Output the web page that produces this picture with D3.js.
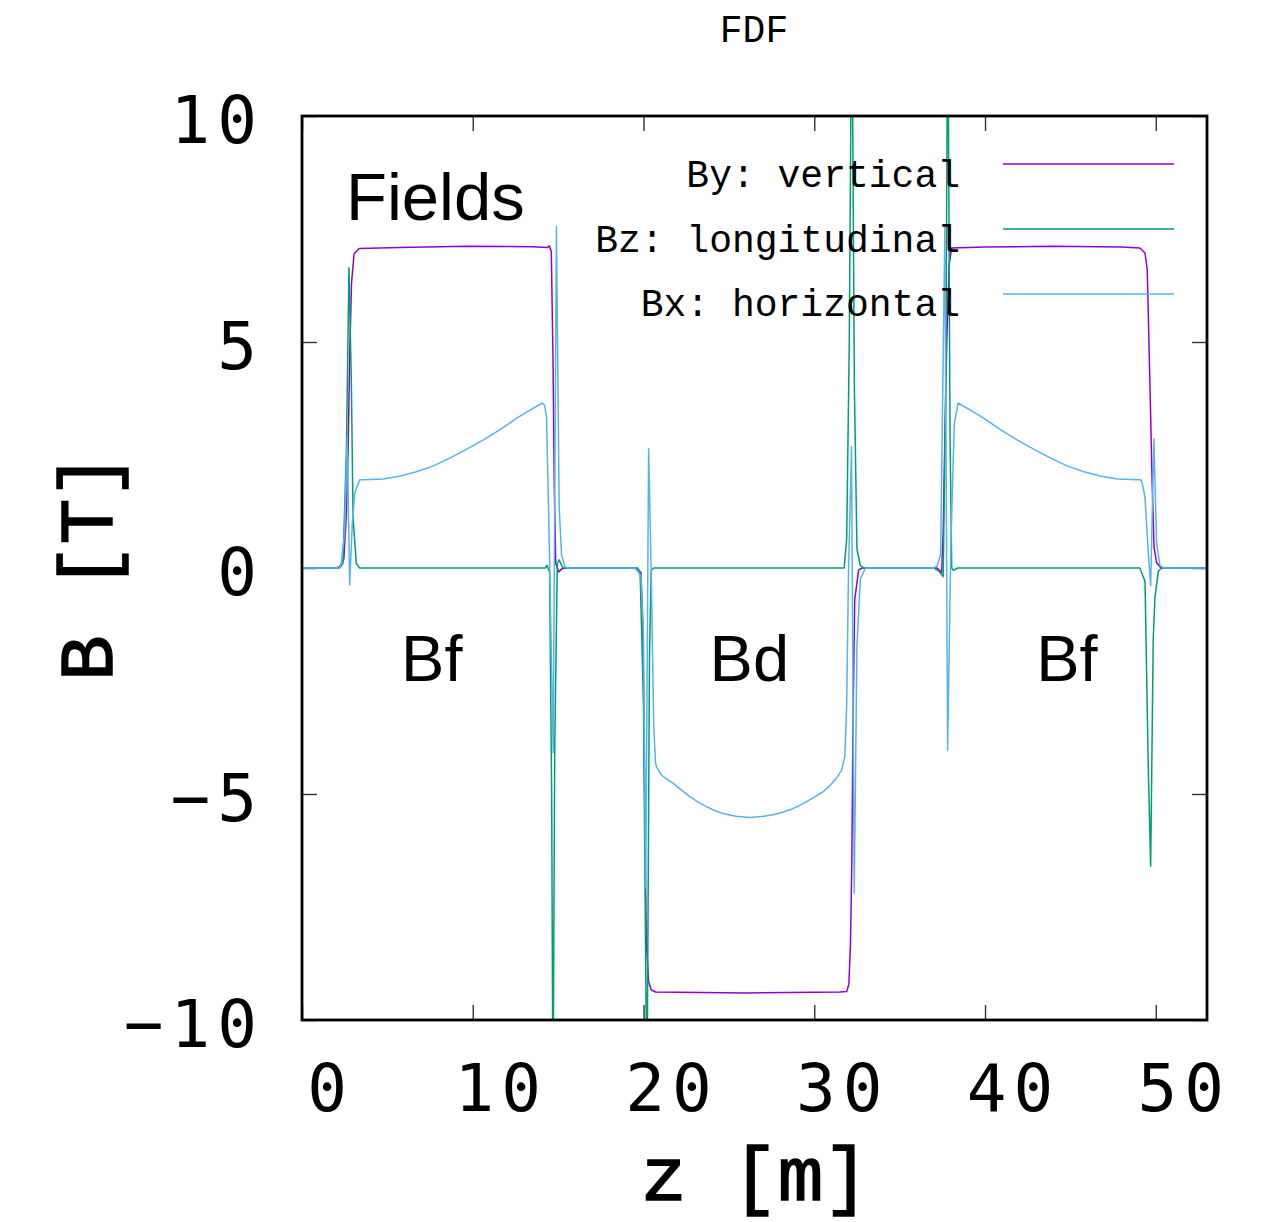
<!DOCTYPE html>
<html>
<head>
<meta charset="utf-8">
<script src="https://cdn.jsdelivr.net/npm/d3@7"></script>
<style>
  body { margin: 0; background: #fff; }
</style>
</head>
<body>
<div id="chart"></div>
<script>
// field map data
var byZ   = [0, 2.0, 2.2, 2.45, 2.6, 2.7, 2.8, 2.9, 3.05, 3.35, 5.7, 9.6, 13.5, 14.38, 14.48, 14.6, 14.7, 14.78, 14.86, 15.05, 15.2, 15.4,
             19.6, 19.85, 19.96, 20.06, 20.16, 20.3, 20.45, 20.7, 26.0, 31.5, 31.9, 32.03, 32.12, 32.2, 32.27, 32.37, 32.6, 32.8,
             37.2, 37.46, 37.55, 37.62, 37.76, 37.9, 38.04, 40.0, 44.0, 48.0, 49.07, 49.37, 49.5, 49.65, 49.78, 49.9, 50.05, 50.3, 53];
var byVal = [0, 0, 0.03, 0.2, 1.2, 2.6, 4.8, 6.3, 6.95, 7.07, 7.09, 7.12, 7.11, 7.09, 7.13, 7.0, 4.6, 1.7, 0.1, -0.09, -0.02, 0,
             0, -0.1, -1.23, -4.73, -8.25, -9.15, -9.33, -9.38, -9.4, -9.38, -9.37, -9.2, -8.3, -6.5, -3.4, -0.7, -0.04, 0,
             0, -0.1, 0.8, 2.3, 5.0, 6.7, 7.08, 7.1, 7.12, 7.1, 7.08, 6.97, 6.6, 4.2, 2.0, 0.45, 0.12, 0, 0];

var bzZ   = [0, 2.2, 2.4, 2.6, 2.75, 2.89, 2.99, 3.18, 3.38, 14.25, 14.35, 14.5, 14.62, 14.7, 14.8, 14.95, 15.06, 15.25, 15.4,
             19.65, 19.8, 20.0, 20.2, 20.35, 20.45, 20.6, 31.75, 31.9, 32.05, 32.2, 32.35, 32.5, 32.7, 32.9,
             37.0, 37.3, 37.55, 37.7, 37.82, 37.95, 38.05, 38.15, 38.4, 49.07, 49.37, 49.56, 49.7, 49.85, 49.95, 50.15, 50.35, 53];
var bzVal = [0, 0, 0.1, 2.6, 6.64, 4.1, 1.13, 0.1, 0, 0, 0.06, -0.1, -5, -12, -4, 0.1, 0.18, 0.02, 0,
             0, -0.1, -3, -12, -2, -0.05, 0, 0, 0.65, 5, 13, 4, 0.42, 0.05, 0,
             0, -0.07, -0.19, 4, 13, 3, 0, -0.05, 0, 0, -0.3, -4.4, -6.6, -1.6, -0.66, -0.07, 0, 0];

var bxZ   = [0, 2.2, 2.3, 2.49, 2.65, 2.79, 2.95, 3.09, 3.38, 4.0, 4.75, 5.7, 6.7, 7.7, 8.65, 9.6, 10.6, 11.6, 12.56, 13.3, 14.08, 14.2, 14.32, 14.47, 14.71, 14.9, 15.06, 15.2, 15.4, 15.6,
             19.5, 19.85, 20.0, 20.13, 20.3, 20.45, 20.6, 20.7, 20.76, 21.05, 21.4, 21.73, 22.2, 22.71, 23.2, 23.69, 24.2, 24.66, 25.4, 26.23, 26.9, 27.6, 28.1, 28.57, 29.05, 29.55, 30.0, 30.52, 30.9, 31.3, 31.6, 31.79, 31.9, 32.0, 32.18, 32.34, 32.5, 32.7, 33.0,
             37.0, 37.2, 37.4, 37.65, 37.81, 38.0, 38.2, 38.42, 39.2, 39.94, 40.9, 41.9, 42.9, 43.85, 44.8, 45.8, 46.8, 47.75, 48.5, 49.12, 49.2, 49.37, 49.56, 49.7, 49.89, 50.05, 50.25, 50.5, 53];
var bxVal = [0, 0, 0.1, 0.77, 2.9, -0.37, 1.0, 1.66, 1.95, 1.96, 1.97, 2.03, 2.13, 2.26, 2.43, 2.62, 2.83, 3.06, 3.31, 3.48, 3.65, 3.6, 3.35, 0.77, -4.09, 7.55, 1.35, 0.29, 0.02, 0,
             0, -0.17, -1.5, -7.08, 2.64, -0.1, -3.5, -4.3, -4.4, -4.58, -4.68, -4.76, -4.91, -5.06, -5.18, -5.28, -5.37, -5.43, -5.49, -5.52, -5.5, -5.46, -5.41, -5.35, -5.27, -5.17, -5.07, -4.95, -4.82, -4.65, -4.47, -4.17, -3.0, -0.2, 2.68, -7.19, -1.72, -0.24, 0,
             0, 0.05, 0.31, 7.55, -4.03, 0.5, 3.19, 3.65, 3.48, 3.31, 3.06, 2.83, 2.62, 2.43, 2.26, 2.13, 2.03, 1.97, 1.96, 1.95, 1.89, 1.56, 0.35, -0.39, 2.86, 0.54, 0.05, 0, 0];

var seriesNames = ["By: vertical", "Bz: longitudinal", "Bx: horizontal"];
var seriesColors = ["#9400d3", "#009e73", "#56b4e9"];
var zTicks = [0, 10, 20, 30, 40, 50];
var bTicks = [-10, -5, 0, 5, 10];
var magnetLabels = ["Bf", "Bd", "Bf"];
var magnetCenters = [7.6, 26.2, 44.8];

var svgWidth = 1281;
var svgHeight = 1222;

var margin = { top: 116, right: 74, bottom: 202, left: 302 };
var width = svgWidth - margin.left - margin.right;
var height = svgHeight - margin.top - margin.bottom;

var svg = d3.select("#chart")
  .append("svg")
  .attr("width", svgWidth)
  .attr("height", svgHeight);

var g = svg.append("g")
  .attr("transform", `translate(${margin.left}, ${margin.top})`);

var x = d3.scaleLinear().domain([0, 53]).range([0, width]);
var y = d3.scaleLinear().domain([-10, 10]).range([height, 0]);

// ticks on all four sides, pointing inward
function styleTicks(sel) {
  sel.select(".domain").remove();
  sel.selectAll(".tick line").attr("stroke", "#333").attr("stroke-width", 1.4);
}

var bottomAxis = g.append("g")
  .attr("transform", `translate(0, ${height})`)
  .call(d3.axisBottom(x).tickValues(zTicks).tickSize(-15).tickFormat(d3.format("d")));
styleTicks(bottomAxis);
bottomAxis.selectAll("text")
  .attr("y", 0).attr("dy", 91).attr("dx", 28)
  .attr("font-family", "DejaVu Sans Mono").attr("font-size", 66)
  .attr("letter-spacing", 7).attr("fill", "#000");

g.append("g")
  .call(d3.axisTop(x).tickValues(zTicks).tickSize(-15).tickFormat(""))
  .call(styleTicks);

var leftAxis = g.append("g")
  .call(d3.axisLeft(y).tickValues(bTicks).tickSize(-15)
    .tickFormat(d => d < 0 ? "\u2212" + Math.abs(d) : String(d)));
styleTicks(leftAxis);
leftAxis.selectAll("text")
  .attr("x", -38).attr("dy", 26)
  .attr("font-family", "DejaVu Sans Mono").attr("font-size", 66)
  .attr("letter-spacing", 7).attr("fill", "#000");

g.append("g")
  .attr("transform", `translate(${width}, 0)`)
  .call(d3.axisRight(y).tickValues(bTicks).tickSize(-15).tickFormat(""))
  .call(styleTicks);

// clip curves to the frame
svg.append("clipPath").attr("id", "plotClip")
  .append("rect").attr("width", width).attr("height", height);

var line = d3.line()
  .x(d => x(d[0]))
  .y(d => y(d[1]));

var seriesData = [
  d3.zip(byZ, byVal),
  d3.zip(bzZ, bzVal),
  d3.zip(bxZ, bxVal)
];

g.append("g").attr("clip-path", "url(#plotClip)")
  .selectAll("path")
  .data(seriesData)
  .enter()
  .append("path")
  .attr("d", line)
  .attr("fill", "none")
  .attr("stroke", (d, i) => seriesColors[i])
  .attr("stroke-width", 1.5)
  .attr("stroke-linejoin", "round");

// frame
g.append("rect")
  .attr("width", width).attr("height", height)
  .attr("fill", "none").attr("stroke", "#000").attr("stroke-width", 2.8);

// legend
var legend = svg.append("g");
seriesNames.forEach(function(name, i) {
  legend.append("text")
    .attr("x", 960).attr("y", 187 + i * 64.5)
    .attr("text-anchor", "end")
    .attr("font-family", "Liberation Mono").attr("font-size", 38)
    .attr("fill", "#000")
    .text(name);
  legend.append("line")
    .attr("x1", 1003).attr("x2", 1174)
    .attr("y1", 164 + i * 65).attr("y2", 164 + i * 65)
    .attr("stroke", seriesColors[i]).attr("stroke-width", 1.5);
});

// labels inside the plot
g.append("text")
  .attr("x", 44).attr("y", 104)
  .attr("font-family", "Liberation Sans").attr("font-size", 67)
  .text("Fields");

g.selectAll(".magnet")
  .data(magnetLabels)
  .enter()
  .append("text")
  .attr("class", "magnet")
  .attr("x", (d, i) => x(magnetCenters[i]))
  .attr("y", 681 - margin.top)
  .attr("text-anchor", "middle")
  .attr("font-family", "Liberation Sans").attr("font-size", 65)
  .text(d => d);

// title and axis titles
svg.append("text")
  .attr("x", 754).attr("y", 42)
  .attr("text-anchor", "middle")
  .attr("font-family", "Liberation Mono").attr("font-size", 38)
  .text("FDF");

svg.append("text")
  .attr("x", 755).attr("y", 1200)
  .attr("text-anchor", "middle")
  .attr("font-family", "Liberation Mono").attr("font-size", 76)
  .attr("stroke", "#000").attr("stroke-width", 1.5)
  .text("z [m]");

svg.append("text")
  .attr("transform", "translate(112, 567) rotate(-90)")
  .attr("text-anchor", "middle")
  .attr("font-family", "Liberation Mono").attr("font-size", 76)
  .attr("stroke", "#000").attr("stroke-width", 1.5)
  .text("B [T]");
</script>
</body>
</html>
